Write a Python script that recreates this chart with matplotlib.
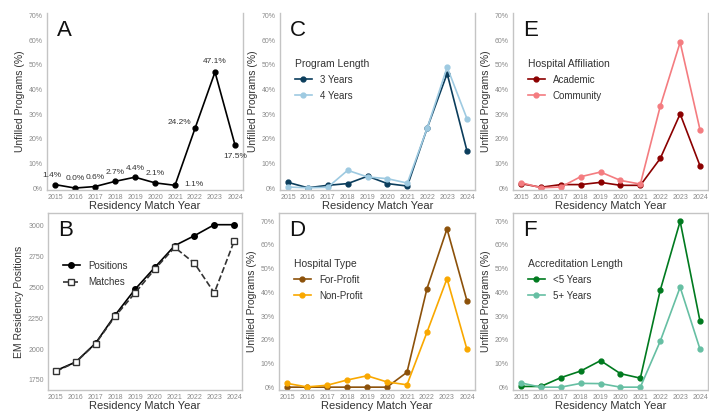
import numpy as np
import matplotlib
matplotlib.use("Agg")
import matplotlib.pyplot as plt
from matplotlib.ticker import FuncFormatter

plt.rcParams['font.family'] = ['Liberation Sans', 'DejaVu Sans']

years = [2015, 2016, 2017, 2018, 2019, 2020, 2021, 2022, 2023, 2024]

# panel A - overall unfilled programs (%)
unfilled_all = [1.4, 0.0, 0.6, 2.7, 4.4, 2.1, 1.1, 24.2, 47.1, 17.5]
unfilled_labels = ["1.4%", "0.0%", "0.6%", "2.7%", "4.4%", "2.1%", "1.1%", "24.2%", "47.1%", "17.5%"]

# panel B - positions and matches
positions = [1825, 1895, 2047, 2278, 2486, 2664, 2840, 2921, 3010, 3010]
matches = [1820, 1893, 2044, 2268, 2456, 2650, 2826, 2697, 2456, 2875]

# panel C - program length
len3 = [2.3, 0.1, 1.1, 1.8, 4.8, 1.8, 0.8, 24.4, 46.5, 15.0]
len4 = [0.4, 0.1, 0.3, 7.2, 4.5, 3.8, 2.0, 24.4, 49.1, 28.1]

# panel D - hospital type
forprofit = [0.0, 0.0, 0.0, 0.0, 0.0, 0.0, 6.3, 41.6, 66.8, 36.4]
nonprofit = [1.6, 0.1, 0.8, 3.0, 4.8, 2.2, 1.0, 23.2, 45.8, 15.9]

# panel E - hospital affiliation
academic = [1.8, 0.3, 1.4, 1.4, 2.3, 1.1, 1.1, 12.0, 30.1, 9.0]
community = [2.2, 0.1, 0.4, 4.6, 6.5, 3.1, 1.6, 33.2, 59.2, 23.6]

# panel F - accreditation length
acc_lt5 = [0.3, 0.3, 4.0, 6.8, 11.2, 5.7, 3.8, 40.9, 70.0, 27.8]
acc_5p = [1.8, 0.0, 0.0, 1.6, 1.5, 0.0, 0.0, 19.4, 42.2, 16.0]

spine_col = "#c4c4c4"
tick_col = "#8a8a8a"
lab_col = "#333333"

fig = plt.figure(figsize=(7.09, 4.12), dpi=100)

def px(l, t, r, b):
    W, H = 709.0, 412.0
    return [l / W, 1 - b / H, (r - l) / W, (b - t) / H]

axA = fig.add_axes(px(47, 13, 243, 190))
axC = fig.add_axes(px(280, 13, 475, 190))
axE = fig.add_axes(px(513, 13, 708, 190))
axB = fig.add_axes(px(48, 213, 242, 390))
axD = fig.add_axes(px(279, 213, 475, 390))
axF = fig.add_axes(px(513, 213, 708, 390))

pct = FuncFormatter(lambda v, p: "%d%%" % v)

def style(ax, top_row, ylabel="Unfilled Programs (%)"):
    for s in ax.spines.values():
        s.set_color(spine_col)
        s.set_linewidth(1.0)
    if top_row:
        ax.spines['top'].set_visible(False)
    ax.tick_params(length=0, labelsize=5, colors=tick_col, pad=3)
    ax.set_xticks(years)
    ax.set_xlim(2014.6, 2024.4)
    ax.set_xlabel("Residency Match Year", fontsize=8, color=lab_col, labelpad=0)
    ax.set_ylabel(ylabel, fontsize=7.5, color=lab_col, labelpad=3)

def pct_axis(ax, top_row):
    ax.set_yticks(np.arange(0, 71, 10))
    ax.yaxis.set_major_formatter(pct)
    if top_row:
        ax.set_ylim(-0.8, 71.1)
    else:
        ax.set_ylim(-1.2, 73.5)

def letter(ax, s):
    ax.text(0.05, 0.96, s, transform=ax.transAxes, fontsize=16, va='top', ha='left', color='#111111')

# A
style(axA, True)
pct_axis(axA, True)
axA.plot(years, unfilled_all, color='black', marker='o', markersize=3.5, linewidth=1.2)
offs = [(-2, 4), (0, 4), (0, 4), (0, 4), (0, 4), (0, 4), (14, -2), (-11, 2), (0, 5), (0, -11)]
for x, y, t, o in zip(years, unfilled_all, unfilled_labels, offs):
    axA.annotate(t, (x, y), xytext=o, textcoords='offset points', ha='center', va='bottom',
                 fontsize=6, color='#333333')
letter(axA, "A")

# B
style(axB, False, ylabel="EM Residency Positions")
axB.set_ylim(1668, 3105)
axB.set_yticks([1750, 2000, 2250, 2500, 2750, 3000])
axB.plot(years, positions, color='black', marker='o', markersize=4, linewidth=1.2, label="Positions")
axB.plot(years, matches, color='#333333', marker='s', markersize=4, linewidth=1.2, linestyle='--',
         markerfacecolor='white', markeredgecolor='#333333', label="Matches")
axB.legend(loc='upper left', bbox_to_anchor=(0.03, 0.78), frameon=False, fontsize=7,
           handlelength=1.8, labelspacing=0.7, labelcolor='#333333')
letter(axB, "B")

def two_series(ax, a, b, ca, cb, la, lb, title, top_row, ltr):
    style(ax, top_row)
    pct_axis(ax, top_row)
    ax.plot(years, a, color=ca, marker='o', markersize=3.5, linewidth=1.2, label=la)
    ax.plot(years, b, color=cb, marker='o', markersize=3.5, linewidth=1.2, label=lb)
    leg = ax.legend(loc='upper left', bbox_to_anchor=(0.03, 0.79), frameon=False, fontsize=7,
                    title=title, title_fontsize=7.5, handlelength=1.8, labelspacing=0.6,
                    labelcolor='#333333')
    leg._legend_box.align = "left"
    leg.get_title().set_color('#333333')
    letter(ax, ltr)

two_series(axC, len3, len4, '#0b3d5c', '#9ecae1', '3 Years', '4 Years', 'Program Length', True, 'C')
two_series(axD, forprofit, nonprofit, '#8c510a', '#f9a800', 'For-Profit', 'Non-Profit', 'Hospital Type', False, 'D')
two_series(axE, academic, community, '#8b0000', '#f47c80', 'Academic', 'Community', 'Hospital Affiliation', True, 'E')
two_series(axF, acc_lt5, acc_5p, '#007a1f', '#66bfa3', '<5 Years', '5+ Years', 'Accreditation Length', False, 'F')

fig.savefig("out.png", dpi=100)
